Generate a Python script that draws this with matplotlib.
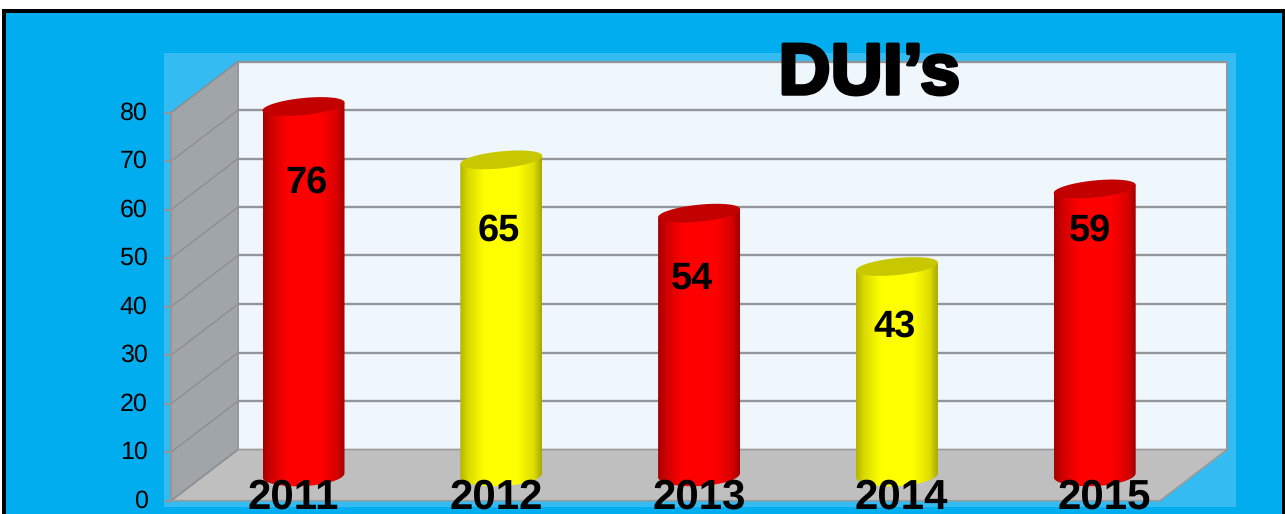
import numpy as np
import matplotlib
matplotlib.use("Agg")
import matplotlib.pyplot as plt
from matplotlib.patches import Polygon, Rectangle
from matplotlib.colors import LinearSegmentedColormap
import matplotlib.patheffects as pe

years = ["2011", "2012", "2013", "2014", "2015"]
values = [76, 65, 54, 43, 59]
bar_colors = ["red", "yellow", "red", "yellow", "red"]
y_ticks = [0, 10, 20, 30, 40, 50, 60, 70, 80]
title = "DUI\u2019s"

W, H = 1285, 514
PX_X = 197.8          # pixels per category
PX_Y = 4.85           # pixels per unit
X0, Y0 = 270.0, 500.7 # pixel of (category 0, value 0) on the front plane
DX, DY = 67 / PX_X, 51.2 / PX_Y  # depth offset in data units
BAR_W = 82 / PX_X
CAP_H = 8.5 / PX_Y    # top ellipse half height
FOOT_H = 11 / PX_Y    # bottom ellipse half height

plt.rcParams["font.family"] = ["Liberation Sans", "DejaVu Sans"]
plt.rcParams["text.hinting"] = "no_hinting"
plt.rcParams["text.hinting_factor"] = 1
fig = plt.figure(figsize=(W / 100, H / 100), dpi=100, facecolor="white")
ax = fig.add_axes([0, 0, 1, 1])
ax.set_xlim(-X0 / PX_X, (W - X0) / PX_X)
ax.set_ylim(-(H - Y0) / PX_Y, Y0 / PX_Y)
ax.axis("off")

def dx(px):
    return px / PX_X
def dy(px):
    return px / PX_Y
def xp(px):
    return (px - X0) / PX_X
def yp(px):
    return (Y0 - px) / PX_Y

GRID = "#92959A"
# frame and background
ax.add_patch(Rectangle((xp(2), yp(514)), dx(1283), dy(505), fc="black", ec="none", zorder=0))
ax.add_patch(Rectangle((xp(6), yp(514)), dx(1276), dy(501), fc="#00AEEF", ec="none", zorder=0.1))
ax.add_patch(Rectangle((xp(164), yp(507)), dx(1072), dy(454), fc="#33BBF2", ec="none", zorder=0.2))

xl, xr = -0.5, 4.5
top = 80
# back wall
ax.add_patch(Polygon([(xl + DX, DY), (xr + DX, DY), (xr + DX, top + DY), (xl + DX, top + DY)],
                     fc="#F0F7FC", ec=GRID, lw=1.4, zorder=1))
# side wall
ax.add_patch(Polygon([(xl, 0), (xl + DX, DY), (xl + DX, top + DY), (xl, top)],
                     fc="#A0A5A9", ec=GRID, lw=1.0, zorder=1.1))
# floor
ax.add_patch(Polygon([(xl, 0), (xr, 0), (xr + DX, DY), (xl + DX, DY)],
                     fc="#C0BFC0", ec="#9A9A9A", lw=1.2, zorder=1.1))
# grid
for t in y_ticks:
    if t > 0:
        ax.plot([xl + DX, xr + DX], [t + DY, t + DY], color=GRID, lw=1.7, zorder=1.2, solid_capstyle="butt")
    ax.plot([xl, xl + DX], [t, t + DY], color="#8A8D90", lw=0.9, zorder=1.2)
    ax.plot([xl - dx(7), xl], [t, t], color=GRID, lw=1.6, zorder=1.3, solid_capstyle="butt")
    ax.text(xp(147.5), t - dy(0.5), str(t), ha="right", va="center", fontsize=18.3, color="black", zorder=5)
ax.plot([xl, xl], [0, top], color=GRID, lw=1.6, zorder=1.3)

styles = {
    "red": dict(body=["#A80000", "#CE0000", "#FF0000", "#FF0000", "#D80000", "#A00000"], cap="#C20000"),
    "yellow": dict(body=["#B4B400", "#DADA00", "#FFFF00", "#FFFF00", "#DEDE00", "#A8A800"], cap="#C8C800"),
}
stops = [0, 0.1, 0.3, 0.7, 0.9, 1]
t = np.linspace(0, 2 * np.pi, 121)
cap_tilt = dy(4)
foot_tilt = dy(2)

for i, (v, c) in enumerate(zip(values, bar_colors)):
    st = styles[c]
    cx = i + DX / 2
    base = DY / 2
    ytop = base + v
    half = BAR_W / 2
    cmap = LinearSegmentedColormap.from_list(c, list(zip(stops, st["body"])))
    # body outline: closed below by the lower half of an ellipse
    arc = np.linspace(np.pi, 2 * np.pi, 50)
    body = [(cx - half, ytop - cap_tilt)]
    body += [(cx + half * np.cos(a), base + FOOT_H * np.sin(a) + foot_tilt * np.cos(a)) for a in arc]
    body += [(cx + half, ytop + cap_tilt)]
    poly = Polygon(body, closed=True, fc="none", ec="none", zorder=2 + i * 0.1)
    ax.add_patch(poly)
    im = ax.imshow(np.linspace(0, 1, 256)[None, :], cmap=cmap, aspect="auto",
                   extent=[cx - half, cx + half, base - FOOT_H * 1.5, ytop + dy(6)],
                   zorder=2 + i * 0.1, interpolation="bilinear")
    im.set_clip_path(poly)
    # tilted top ellipse
    ex = cx + half * np.cos(t)
    ey = ytop + CAP_H * np.sin(t) + cap_tilt * np.cos(t)
    ax.add_patch(Polygon(np.c_[ex, ey], closed=True, fc=st["cap"], ec="none", zorder=2.05 + i * 0.1))

ax.set_xlim(-X0 / PX_X, (W - X0) / PX_X)
ax.set_ylim(-(H - Y0) / PX_Y, Y0 / PX_Y)

# value labels
label_levels = [65.5, 55.7, 45.7, 35.8, 55.7]
label_shift = [3, -3, -7, -2, -5]
for i, (v, ly, s) in enumerate(zip(values, label_levels, label_shift)):
    ax.text(i + DX / 2 + dx(s), ly, str(v), ha="center", va="center", fontsize=27.5,
            fontweight="bold", color="black", zorder=6)

# category labels
cat_shift = [-10, -5, 0, 4, 10]
for i, (y, s) in enumerate(zip(years, cat_shift)):
    ax.text(i + DX / 2 + dx(s), yp(509), y, ha="center", va="baseline", fontsize=30.5,
            fontweight="bold", color="black", zorder=6)

ax.text(xp(869), yp(94), title, ha="center", va="baseline", fontsize=52, fontweight="bold",
        color="black", zorder=6, path_effects=[pe.withStroke(linewidth=2.5, foreground="black")])

fig.savefig("out.png", dpi=100, facecolor=fig.get_facecolor())
